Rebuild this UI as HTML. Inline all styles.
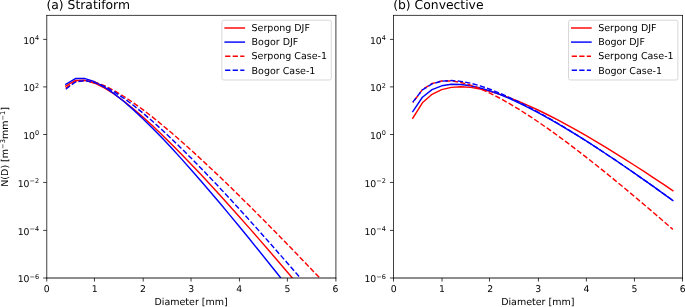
<!DOCTYPE html>
<html lang="en"><head><meta charset="utf-8"><title>DSD</title>
<style>html,body{margin:0;padding:0;background:#fff;}body{width:685px;height:307px;overflow:hidden;}svg{display:block;}svg{will-change:transform;text-rendering:geometricPrecision;}</style>
</head><body>
<svg width="685" height="307" viewBox="0 0 685 307" font-family="'DejaVu Sans', 'Liberation Sans', sans-serif" fill="#000">
<rect width="685" height="307" fill="#fff"/>
<clipPath id="clipL"><rect x="46.75" y="15.5" width="289.15" height="262.50"/></clipPath>
<g clip-path="url(#clipL)" fill="none" stroke-width="1.43" stroke-linejoin="round">
<polyline points="65.78,86.02 75.42,80.46 85.06,80.33 94.70,83.19 104.34,87.93 113.98,93.98 123.62,100.98 133.26,108.71 142.90,117.02 152.54,125.78 162.18,134.93 171.82,144.41 181.46,154.16 191.10,164.14 200.74,174.33 210.38,184.70 220.02,195.23 229.66,205.91 239.30,216.71 248.94,227.63 258.58,238.65 268.22,249.77 277.86,260.97 287.50,272.26 297.14,283.62 306.78,295.05 316.42,306.54 326.06,318.09" stroke="#ff0000" stroke-linecap="square"/>
<polyline points="65.78,84.27 75.42,78.52 85.06,78.56 94.70,81.78 104.34,87.00 113.98,93.61 123.62,101.24 133.26,109.64 142.90,118.65 152.54,128.16 162.18,138.07 171.82,148.33 181.46,158.88 191.10,169.68 200.74,180.70 210.38,191.92 220.02,203.30 229.66,214.84 239.30,226.51 248.94,238.30 258.58,250.21 268.22,262.22 277.86,274.32 287.50,286.51 297.14,298.77 306.78,311.11 316.42,323.52 326.06,335.99" stroke="#0000ff" stroke-linecap="square"/>
<polyline points="65.78,88.14 75.42,81.66 85.06,80.47 94.70,82.18 104.34,85.71 113.98,90.52 123.62,96.25 133.26,102.68 142.90,109.68 152.54,117.12 162.18,124.94 171.82,133.07 181.46,141.47 191.10,150.10 200.74,158.92 210.38,167.93 220.02,177.08 229.66,186.38 239.30,195.80 248.94,205.34 258.58,214.97 268.22,224.70 277.86,234.52 287.50,244.41 297.14,254.37 306.78,264.40 316.42,274.50 326.06,284.64" stroke="#ff0000" stroke-dasharray="5.28 2.28"/>
<polyline points="65.78,89.23 75.42,81.95 85.06,80.58 94.70,82.46 104.34,86.38 113.98,91.72 123.62,98.09 133.26,105.25 142.90,113.04 152.54,121.33 162.18,130.04 171.82,139.10 181.46,148.46 191.10,158.07 200.74,167.91 210.38,177.94 220.02,188.15 229.66,198.51 239.30,209.01 248.94,219.64 258.58,230.38 268.22,241.23 277.86,252.17 287.50,263.20 297.14,274.31 306.78,285.49 316.42,296.74 326.06,308.06" stroke="#0000ff" stroke-dasharray="5.28 2.28"/>
</g>
<g stroke="#000" stroke-width="0.75" fill="none">
<line x1="46.75" y1="278.0" x2="46.75" y2="281.55"/>
<line x1="94.45" y1="278.0" x2="94.45" y2="281.55"/>
<line x1="143.20" y1="278.0" x2="143.20" y2="281.55"/>
<line x1="191.04" y1="278.0" x2="191.04" y2="281.55"/>
<line x1="239.43" y1="278.0" x2="239.43" y2="281.55"/>
<line x1="287.40" y1="278.0" x2="287.40" y2="281.55"/>
<line x1="335.90" y1="278.0" x2="335.90" y2="281.55"/>
<line x1="46.75" y1="278.00" x2="43.20" y2="278.00"/>
<line x1="46.75" y1="230.40" x2="43.20" y2="230.40"/>
<line x1="46.75" y1="182.45" x2="43.20" y2="182.45"/>
<line x1="46.75" y1="134.50" x2="43.20" y2="134.50"/>
<line x1="46.75" y1="86.90" x2="43.20" y2="86.90"/>
<line x1="46.75" y1="39.40" x2="43.20" y2="39.40"/>
<line x1="46.75" y1="15.05" x2="46.75" y2="278.45"/>
<line x1="335.9" y1="15.05" x2="335.9" y2="278.45"/>
<line x1="46.38" y1="15.4" x2="336.27" y2="15.4"/>
<line x1="46.38" y1="278.0" x2="336.27" y2="278.0" stroke-width="0.9"/>
</g>
<g font-size="9.3" text-anchor="middle">
<text x="46.65" y="292.0">0</text>
<text x="94.80" y="292.0">1</text>
<text x="142.95" y="292.0">2</text>
<text x="191.10" y="292.0">3</text>
<text x="239.25" y="292.0">4</text>
<text x="287.40" y="292.0">5</text>
<text x="335.55" y="292.0">6</text>
</g>
<g font-size="9.3" text-anchor="end">
<text x="39.15" y="282.40">10<tspan font-size="6.51" dy="-3.65">−6</tspan></text>
<text x="39.15" y="234.80">10<tspan font-size="6.51" dy="-3.65">−4</tspan></text>
<text x="39.15" y="186.85">10<tspan font-size="6.51" dy="-3.65">−2</tspan></text>
<text x="39.15" y="138.90">10<tspan font-size="6.51" dy="-3.65">0</tspan></text>
<text x="39.15" y="91.30">10<tspan font-size="6.51" dy="-3.65">2</tspan></text>
<text x="39.15" y="43.80">10<tspan font-size="6.51" dy="-3.65">4</tspan></text>
</g>
<text x="46.45" y="9.4" font-size="12.37">(a) Stratiform</text>
<text x="191.12" y="304.7" font-size="9.51" text-anchor="middle">Diameter [mm]</text>
<rect x="221.90" y="20.2" width="109.40" height="59.80" rx="1.9" fill="#fff" fill-opacity="0.8" stroke="#d6d6d6" stroke-width="0.95"/>
<line x1="224.40" y1="28.00" x2="245.10" y2="28.00" stroke="#ff0000" stroke-width="1.43"/>
<text x="251.60" y="30.80" font-size="9.51">Serpong DJF</text>
<line x1="224.40" y1="42.10" x2="245.10" y2="42.10" stroke="#0000ff" stroke-width="1.43"/>
<text x="251.60" y="45.05" font-size="9.51">Bogor DJF</text>
<line x1="225.10" y1="56.20" x2="244.40" y2="56.20" stroke="#ff0000" stroke-width="1.43" stroke-dasharray="5.28 2.28"/>
<text x="251.60" y="59.30" font-size="9.51">Serpong Case-1</text>
<line x1="225.10" y1="70.30" x2="244.40" y2="70.30" stroke="#0000ff" stroke-width="1.43" stroke-dasharray="5.28 2.28"/>
<text x="251.60" y="73.55" font-size="9.51">Bogor Case-1</text>
<clipPath id="clipR"><rect x="393.5" y="15.5" width="289.00" height="262.50"/></clipPath>
<g clip-path="url(#clipR)" fill="none" stroke-width="1.43" stroke-linejoin="round">
<polyline points="412.77,118.24 422.40,102.77 432.03,94.28 441.67,89.61 451.30,87.36 460.93,86.77 470.57,87.41 480.20,88.98 489.83,91.29 499.47,94.19 509.10,97.59 518.73,101.40 528.37,105.55 538.00,110.02 547.63,114.74 557.27,119.70 566.90,124.86 576.53,130.21 586.17,135.72 595.80,141.38 605.43,147.17 615.07,153.09 624.70,159.12 634.33,165.25 643.97,171.47 653.60,177.79 663.23,184.18 672.87,190.65" stroke="#ff0000" stroke-linecap="square"/>
<polyline points="412.77,111.57 422.40,97.24 432.03,89.68 441.67,85.83 451.30,84.33 460.93,84.46 470.57,85.77 480.20,87.99 489.83,90.92 499.47,94.43 509.10,98.42 518.73,102.81 528.37,107.54 538.00,112.56 547.63,117.84 557.27,123.35 566.90,129.06 576.53,134.94 586.17,140.98 595.80,147.17 605.43,153.49 615.07,159.92 624.70,166.47 634.33,173.12 643.97,179.85 653.60,186.68 663.23,193.58 672.87,200.55" stroke="#0000ff" stroke-linecap="square"/>
<polyline points="412.77,102.61 422.40,89.65 432.03,83.47 441.67,81.02 451.30,80.91 460.93,82.44 470.57,85.14 480.20,88.76 489.83,93.09 499.47,98.00 509.10,103.39 518.73,109.18 528.37,115.32 538.00,121.75 547.63,128.43 557.27,135.34 566.90,142.45 576.53,149.74 586.17,157.19 595.80,164.78 605.43,172.50 615.07,180.35 624.70,188.30 634.33,196.35 643.97,204.49 653.60,212.72 663.23,221.03 672.87,229.41" stroke="#ff0000" stroke-dasharray="5.28 2.28" stroke-dashoffset="4.3"/>
<polyline points="412.77,102.09 422.40,89.97 432.03,83.91 441.67,81.17 451.30,80.53 460.93,81.34 470.57,83.21 480.20,85.89 489.83,89.21 499.47,93.04 509.10,97.30 518.73,101.93 528.37,106.85 538.00,112.04 547.63,117.46 557.27,123.07 566.90,128.87 576.53,134.83 586.17,140.93 595.80,147.15 605.43,153.50 615.07,159.95 624.70,166.50 634.33,173.13 643.97,179.85 653.60,186.65 663.23,193.51 672.87,200.45" stroke="#0000ff" stroke-dasharray="5.28 2.28"/>
</g>
<g stroke="#000" stroke-width="0.75" fill="none">
<line x1="393.50" y1="278.0" x2="393.50" y2="281.55"/>
<line x1="442.04" y1="278.0" x2="442.04" y2="281.55"/>
<line x1="489.50" y1="278.0" x2="489.50" y2="281.55"/>
<line x1="538.43" y1="278.0" x2="538.43" y2="281.55"/>
<line x1="586.38" y1="278.0" x2="586.38" y2="281.55"/>
<line x1="634.43" y1="278.0" x2="634.43" y2="281.55"/>
<line x1="682.50" y1="278.0" x2="682.50" y2="281.55"/>
<line x1="393.5" y1="278.00" x2="389.95" y2="278.00"/>
<line x1="393.5" y1="230.40" x2="389.95" y2="230.40"/>
<line x1="393.5" y1="182.45" x2="389.95" y2="182.45"/>
<line x1="393.5" y1="134.50" x2="389.95" y2="134.50"/>
<line x1="393.5" y1="86.90" x2="389.95" y2="86.90"/>
<line x1="393.5" y1="39.40" x2="389.95" y2="39.40"/>
<line x1="393.5" y1="15.05" x2="393.5" y2="278.45"/>
<line x1="682.5" y1="15.05" x2="682.5" y2="278.45"/>
<line x1="393.13" y1="15.4" x2="682.87" y2="15.4"/>
<line x1="393.13" y1="278.0" x2="682.87" y2="278.0" stroke-width="0.9"/>
</g>
<g font-size="9.3" text-anchor="middle">
<text x="393.80" y="292.0">0</text>
<text x="441.95" y="292.0">1</text>
<text x="490.10" y="292.0">2</text>
<text x="538.25" y="292.0">3</text>
<text x="586.40" y="292.0">4</text>
<text x="634.55" y="292.0">5</text>
<text x="682.70" y="292.0">6</text>
</g>
<g font-size="9.3" text-anchor="end">
<text x="385.90" y="282.40">10<tspan font-size="6.51" dy="-3.65">−6</tspan></text>
<text x="385.90" y="234.80">10<tspan font-size="6.51" dy="-3.65">−4</tspan></text>
<text x="385.90" y="186.85">10<tspan font-size="6.51" dy="-3.65">−2</tspan></text>
<text x="385.90" y="138.90">10<tspan font-size="6.51" dy="-3.65">0</tspan></text>
<text x="385.90" y="91.30">10<tspan font-size="6.51" dy="-3.65">2</tspan></text>
<text x="385.90" y="43.80">10<tspan font-size="6.51" dy="-3.65">4</tspan></text>
</g>
<text x="393.20" y="9.4" font-size="12.37">(b) Convective</text>
<text x="537.80" y="304.7" font-size="9.51" text-anchor="middle">Diameter [mm]</text>
<rect x="568.50" y="20.2" width="109.40" height="59.80" rx="1.9" fill="#fff" fill-opacity="0.8" stroke="#d6d6d6" stroke-width="0.95"/>
<line x1="571.00" y1="28.00" x2="591.70" y2="28.00" stroke="#ff0000" stroke-width="1.43"/>
<text x="598.20" y="30.80" font-size="9.51">Serpong DJF</text>
<line x1="571.00" y1="42.10" x2="591.70" y2="42.10" stroke="#0000ff" stroke-width="1.43"/>
<text x="598.20" y="45.05" font-size="9.51">Bogor DJF</text>
<line x1="571.70" y1="56.20" x2="591.00" y2="56.20" stroke="#ff0000" stroke-width="1.43" stroke-dasharray="5.28 2.28"/>
<text x="598.20" y="59.30" font-size="9.51">Serpong Case-1</text>
<line x1="571.70" y1="70.30" x2="591.00" y2="70.30" stroke="#0000ff" stroke-width="1.43" stroke-dasharray="5.28 2.28"/>
<text x="598.20" y="73.55" font-size="9.51">Bogor Case-1</text>
<text transform="translate(8.3,146.9) rotate(-90)" font-size="9.51" text-anchor="middle">N(D) [m<tspan font-size="6.66" dy="-3.65">−3</tspan><tspan dy="3.65">mm</tspan><tspan font-size="6.66" dy="-3.65">−1</tspan><tspan dy="3.65">]</tspan></text>
</svg>
</body></html>
